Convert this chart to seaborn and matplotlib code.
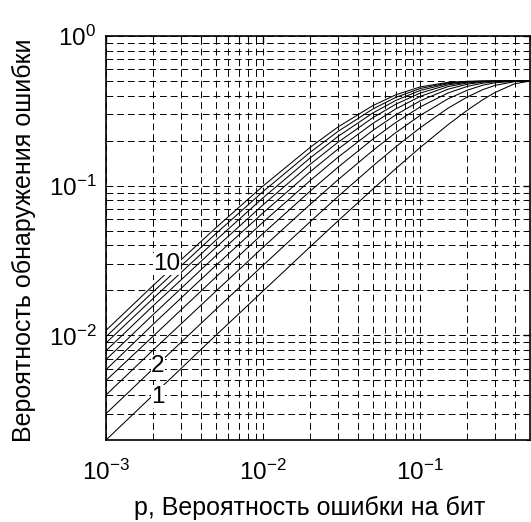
import numpy as np
import pandas as pd
import matplotlib
matplotlib.use("Agg")
import matplotlib.pyplot as plt
import seaborn as sns
from matplotlib.ticker import LogLocator, NullFormatter

# bit error probability (x axis)
p_vals = [0.001, 0.002, 0.005, 0.01, 0.02, 0.03, 0.05, 0.07, 0.1, 0.15, 0.2, 0.25, 0.3, 0.4, 0.5]

# error-detection probability for each curve n = 1..10
curve_1 = [0.0020, 0.0040, 0.0100, 0.0198, 0.0392, 0.0582, 0.0950, 0.1302, 0.180, 0.255, 0.320, 0.375, 0.420, 0.480, 0.500]
curve_2 = [0.0030, 0.0060, 0.0149, 0.0294, 0.0576, 0.0847, 0.1355, 0.1820, 0.244, 0.329, 0.392, 0.438, 0.468, 0.496, 0.500]
curve_3 = [0.0040, 0.0080, 0.0197, 0.0388, 0.0753, 0.1096, 0.1720, 0.2265, 0.295, 0.380, 0.435, 0.469, 0.487, 0.499, 0.500]
curve_4 = [0.0050, 0.0099, 0.0245, 0.0480, 0.0923, 0.1330, 0.2048, 0.2648, 0.336, 0.416, 0.461, 0.484, 0.495, 0.500, 0.500]
curve_5 = [0.0059, 0.0119, 0.0293, 0.0571, 0.1086, 0.1551, 0.2343, 0.2977, 0.369, 0.441, 0.477, 0.492, 0.498, 0.500, 0.500]
curve_6 = [0.0069, 0.0138, 0.0340, 0.0659, 0.1243, 0.1758, 0.2609, 0.3260, 0.395, 0.459, 0.486, 0.496, 0.499, 0.500, 0.500]
curve_7 = [0.0079, 0.0158, 0.0386, 0.0746, 0.1393, 0.1952, 0.2848, 0.3504, 0.416, 0.471, 0.492, 0.498, 0.500, 0.500, 0.500]
curve_8 = [0.0089, 0.0177, 0.0432, 0.0831, 0.1537, 0.2135, 0.3063, 0.3713, 0.433, 0.480, 0.495, 0.499, 0.500, 0.500, 0.500]
curve_9 = [0.0098, 0.0196, 0.0478, 0.0915, 0.1676, 0.2307, 0.3257, 0.3893, 0.446, 0.486, 0.497, 0.4995, 0.500, 0.500, 0.500]
curve_10 = [0.0108, 0.0216, 0.0523, 0.0996, 0.1809, 0.2469, 0.3431, 0.4048, 0.457, 0.490, 0.498, 0.4998, 0.500, 0.500, 0.500]
curves = [curve_1, curve_2, curve_3, curve_4, curve_5, curve_6, curve_7, curve_8, curve_9, curve_10]
curve_ids = list(range(1, 11))

# curve annotations
label_texts = ["10", "2", "1"]
label_x = [0.00245, 0.00214, 0.00214]
label_y = [0.030, 0.0062, 0.0039]

x_label = "p, Вероятность ошибки на бит"
y_label = "Вероятность обнаружения ошибки"

rows = []
for n, vals in zip(curve_ids, curves):
    for p, v in zip(p_vals, vals):
        rows.append({"p": p, "P": v, "n": n})
df = pd.DataFrame(rows)

sns.set_theme(style="white")
plt.rcParams["font.family"] = ["Liberation Sans", "DejaVu Sans"]
plt.rcParams["mathtext.fontset"] = "custom"
plt.rcParams["mathtext.rm"] = "Liberation Sans"
plt.rcParams["mathtext.it"] = "Liberation Sans:italic"
plt.rcParams["mathtext.bf"] = "Liberation Sans:bold"
plt.rcParams["axes.unicode_minus"] = False

fig = plt.figure(figsize=(5.31, 5.22), dpi=100)
ax = fig.add_axes([0.1996, 0.157, 0.7985, 0.774])

sns.lineplot(data=df, x="p", y="P", hue="n", palette=["black"] * 10,
             legend=False, linewidth=0.75, ax=ax, estimator=None)

ax.set_xscale("log")
ax.set_yscale("log")
ax.set_xlim(1e-3, 0.5)
ax.set_ylim(2e-3, 1.0)

ax.xaxis.set_major_locator(LogLocator(base=10, numticks=10))
ax.yaxis.set_major_locator(LogLocator(base=10, numticks=10))
ax.xaxis.set_minor_locator(LogLocator(base=10, subs=np.arange(2, 10), numticks=20))
ax.yaxis.set_minor_locator(LogLocator(base=10, subs=np.arange(2, 10), numticks=20))
ax.xaxis.set_minor_formatter(NullFormatter())
ax.yaxis.set_minor_formatter(NullFormatter())

ax.grid(True, which="both", color="black", linestyle=(0, (7, 4)), linewidth=0.7)
ax.set_axisbelow(True)

ax.tick_params(which="both", direction="in", top=True, right=True, colors="black",
               labelsize=17.5)
ax.tick_params(axis="x", which="major", pad=14)
ax.tick_params(axis="y", which="major", pad=7)
ax.tick_params(which="major", length=5, width=1)
ax.tick_params(which="minor", length=3, width=0.8)

for s in ax.spines.values():
    s.set_color("black")
    s.set_linewidth(1.2)

ax.set_xlabel(x_label, fontsize=18, color="black")
ax.set_ylabel(y_label, fontsize=18, color="black")
ax.xaxis.set_label_coords(0.481, -0.138)
ax.yaxis.set_label_coords(-0.165, 0.495)

for t, x, y in zip(label_texts, label_x, label_y):
    ax.text(x, y, t, fontsize=17.5, color="black", ha="center", va="center",
            bbox=dict(facecolor="white", edgecolor="none", pad=0.3))

fig.savefig("out.png", dpi=100)
